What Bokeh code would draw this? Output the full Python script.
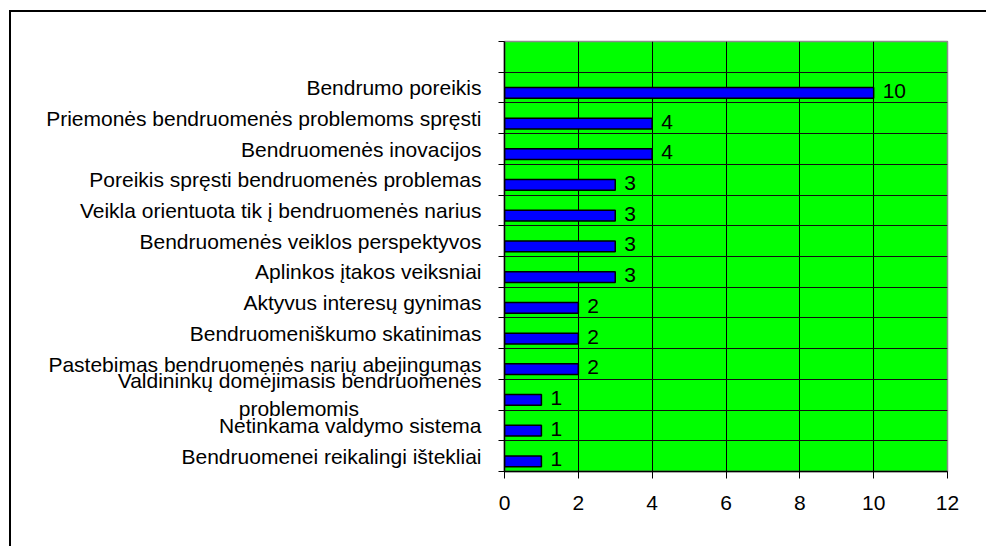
from bokeh.plotting import figure
from bokeh.models import Range1d, FixedTicker, ColumnDataSource
from bokeh.core.properties import value
from bokeh.embed import file_html
from bokeh.resources import INLINE

# Categories from top to bottom ("" = empty top band)
categories = [
    "",
    "Bendrumo poreikis",
    "Priemonės bendruomenės problemoms spręsti",
    "Bendruomenės inovacijos",
    "Poreikis spręsti bendruomenės problemas",
    "Veikla orientuota tik į bendruomenės narius",
    "Bendruomenės veiklos perspektyvos",
    "Aplinkos įtakos veiksniai",
    "Aktyvus interesų gynimas",
    "Bendruomeniškumo skatinimas",
    "Pastebimas bendruomenės narių abejingumas",
    "Valdininkų domėjimasis bendruomenės\nproblemomis" + "\u00a0" * 21,
    "Netinkama valdymo sistema",
    "Bendruomenei reikalingi ištekliai",
]
values = [None, 10, 4, 4, 3, 3, 3, 3, 2, 2, 2, 1, 1, 1]
x_ticks = [0, 2, 4, 6, 8, 10, 12]

FONT = "Liberation Sans"
n = len(categories)
# position of each band center: top category at the top
centers = [n - i - 0.5 for i in range(n)]
bar_shift = -0.17  # bars sit slightly below band center

p = figure(
    width=975, height=534, output_backend="svg", toolbar_location=None,
    x_range=Range1d(0, 12), y_range=Range1d(0, n),
    frame_width=443, frame_height=430,
    min_border_left=493, min_border_right=39, min_border_top=29, min_border_bottom=75,
)
p.styles = {"border-top": "2px solid black", "border-left": "2px solid black",
            "margin-left": "9px", "margin-top": "10px"}
p.background_fill_color = "#00FF00"
p.border_fill_color = "white"
p.outline_line_color = "#8c8c8c"
p.outline_line_width = 1.5

src = ColumnDataSource(dict(
    y=[c + bar_shift for c, v in zip(centers, values) if v is not None],
    v=[v for v in values if v is not None],
    t=[str(v) for v in values if v is not None],
))
p.hbar(y="y", right="v", left=0, height=0.35, source=src,
       fill_color="#0000FF", line_color="black", line_width=1.5)
p.text(x="v", y="y", text="t", source=src, x_offset=9, y_offset=-2,
       text_baseline="middle", text_align="left",
       text_font=value(FONT), text_font_size="21px", text_color="black")

# grids
p.xgrid.ticker = FixedTicker(ticks=x_ticks)
p.xgrid.grid_line_color = "black"
p.xgrid.grid_line_width = 1
p.ygrid.ticker = FixedTicker(ticks=list(range(n + 1)))
p.ygrid.grid_line_color = "#111111"
p.ygrid.grid_line_width = 1

# x axis
xa = p.xaxis[0]
xa.ticker = FixedTicker(ticks=x_ticks)
xa.axis_line_color = "black"
xa.axis_line_width = 1.5
xa.major_tick_out = 7
xa.major_tick_in = 0
xa.major_tick_line_color = "black"
xa.minor_tick_line_color = None
xa.major_label_text_font = FONT
xa.major_label_text_font_size = "21px"
xa.major_label_text_color = "black"
xa.major_label_standoff = 17

# y axis: labels at band centers, tick marks at band boundaries
ya = p.yaxis[0]
ya.ticker = FixedTicker(ticks=centers, minor_ticks=list(range(n + 1)))
ya.major_label_overrides = {c: lab for c, lab in zip(centers, categories)}
ya.major_tick_line_color = None
ya.major_tick_out = 0
ya.major_tick_in = 0
ya.minor_tick_line_color = "black"
ya.minor_tick_out = 6
ya.minor_tick_in = 0
ya.axis_line_color = "black"
ya.axis_line_width = 1.5
ya.major_label_text_font = FONT
ya.major_label_text_font_size = "21px"
ya.major_label_text_color = "black"
ya.major_label_standoff = 17

open("out.html", "w").write(file_html(p, INLINE))
